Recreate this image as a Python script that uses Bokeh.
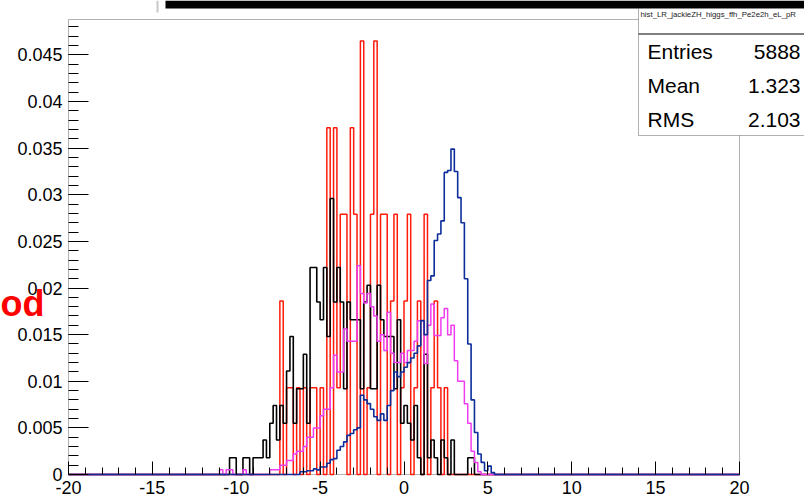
import numpy as np
from bokeh.plotting import figure
from bokeh.models import FixedTicker, BoxAnnotation, Label, Range1d, LinearAxis
from bokeh.embed import file_html
from bokeh.resources import INLINE

# ---- histogram binning: 200 bins of width 0.2 on [-20, 20] ----
BIN_LO = -20.0
BIN_W = 0.2
NBINS = 200

# ---- bin contents, listed from the first bin shown for each sample ----
blue_start = -6.2
blue_vals = [0.0003, 0.0003, 0.0004, 0.0004, 0.0006, 0.0005, 0.0008, 0.0008, 0.0012, 0.0016,
             0.0017, 0.0026, 0.0030, 0.0035, 0.0042, 0.0044, 0.0048, 0.0050, 0.0085, 0.0080,
             0.0076, 0.0070, 0.0062, 0.0058, 0.0065, 0.0058, 0.0074, 0.0090, 0.0110, 0.0105,
             0.0110, 0.0115, 0.0120, 0.0125, 0.0130, 0.0138, 0.0165, 0.0150, 0.0208, 0.0213,
             0.0251, 0.0258, 0.0272, 0.0324, 0.0326, 0.0349, 0.0325, 0.0297, 0.0270, 0.0210,
             0.0140, 0.0080, 0.0045, 0.0022, 0.0013, 0.0004, 0.0009, 0.0002]

magenta_start = -11.2
magenta_vals = [0.0, 0.0005, 0.0, 0.0005, 0.0005, 0.0, 0.0, 0.0, 0.0005, 0.0,
                0.0, 0.0, 0.0, 0.0, 0.0, 0.0, 0.0005, 0.0005, 0.0005, 0.0010,
                0.0010, 0.0015, 0.0015, 0.0022, 0.0025, 0.0025, 0.0030, 0.0040, 0.0040, 0.0050,
                0.0050, 0.0063, 0.0070, 0.0070, 0.0093, 0.0128, 0.0110, 0.0110, 0.0156, 0.0143,
                0.0143, 0.0143, 0.0224, 0.0194, 0.0184, 0.0194, 0.0180, 0.0170, 0.0143, 0.0150,
                0.0133, 0.0174, 0.0130, 0.0120, 0.0120, 0.0130, 0.0120, 0.0133, 0.0133, 0.0143,
                0.0165, 0.0165, 0.0119, 0.0160, 0.0183, 0.0149, 0.0149, 0.0168, 0.0178, 0.0150,
                0.0160, 0.0122, 0.0100, 0.0100, 0.0076, 0.0055, 0.0025, 0.0013, 0.0003]

black_start = -11.2
black_vals = [0.0, 0.0, 0.0, 0.0, 0.0018, 0.0018, 0.0, 0.0, 0.0018, 0.0018,
              0.0, 0.0018, 0.0018, 0.0018, 0.0037, 0.0018, 0.0055, 0.0074, 0.0037, 0.0074,
              0.0055, 0.0111, 0.0148, 0.0055, 0.0092, 0.0092, 0.0129, 0.0055, 0.0222, 0.0222,
              0.0185, 0.0166, 0.0222, 0.0148, 0.0296, 0.0185, 0.0222, 0.0185, 0.0092, 0.0185,
              0.0166, 0.0166, 0.0166, 0.0092, 0.0185, 0.0203, 0.0092, 0.0092, 0.0203, 0.0166,
              0.0148, 0.0148, 0.0148, 0.0092, 0.0166, 0.0055, 0.0074, 0.0055, 0.0037, 0.0074,
              0.0018, 0.0, 0.0129, 0.0018, 0.0037, 0.0018, 0.0, 0.0037, 0.0018, 0.0,
              0.0037, 0.0, 0.0, 0.0, 0.0, 0.0018, 0.0018]

red_start = -7.4
red_vals = [0.0186, 0.0, 0.0093, 0.0093, 0.0, 0.0093, 0.0, 0.0093, 0.0, 0.0093,
            0.0093, 0.0, 0.0093, 0.0, 0.0372, 0.0, 0.0372, 0.0093, 0.0279, 0.0279,
            0.0, 0.0372, 0.0279, 0.0, 0.0465, 0.0, 0.0093, 0.0279, 0.0465, 0.0,
            0.0279, 0.0279, 0.0, 0.0186, 0.0279, 0.0, 0.0093, 0.0186, 0.0279, 0.0,
            0.0093, 0.0186, 0.0, 0.0279, 0.0, 0.0093, 0.0186, 0.0093, 0.0, 0.0093]

# ---- axis ticks ----
x_ticks = [-20, -15, -10, -5, 0, 5, 10, 15, 20]
x_tick_labels = ["-20", "-15", "-10", "-5", "0", "5", "10", "15", "20"]
y_ticks = [0.0, 0.005, 0.01, 0.015, 0.02, 0.025, 0.03, 0.035, 0.04, 0.045]
y_tick_labels = ["0", "0.005", "0.01", "0.015", "0.02", "0.025", "0.03", "0.035", "0.04", "0.045"]
x_min, x_max = -20.0, 20.0
y_max = 0.0488

# ---- stats box ----
stats_title = "hist_LR_jackieZH_higgs_ffh_Pe2e2h_eL_pR"
stats_names = ["Entries", "Mean", "RMS"]
stats_values = ["5888", "1.323", "2.103"]

FONT = "Liberation Sans"
W, H = 804, 496
# pad margins around the histogram frame (pixels)
M_LEFT, M_RIGHT, M_TOP, M_BOTTOM = 68, 65, 19, 22

edges = BIN_LO + BIN_W * np.arange(NBINS + 1)


def full_hist(start, vals):
    h = np.zeros(NBINS)
    i0 = int(round((start - BIN_LO) / BIN_W))
    h[i0:i0 + len(vals)] = vals
    return np.append(h, h[-1])


# the plotting area spans the whole canvas, so that the pad decorations
# around the frame can be drawn as well
sx = (W - M_LEFT - M_RIGHT) / (x_max - x_min)
sy = (H - M_TOP - M_BOTTOM) / y_max
x_range = Range1d(x_min - M_LEFT / sx, x_max + M_RIGHT / sx)
y_range = Range1d(-M_BOTTOM / sy, y_max + M_TOP / sy)

p = figure(width=W, height=H, output_backend="svg", toolbar_location=None,
           x_range=x_range, y_range=y_range,
           x_axis_location=None, y_axis_location=None, min_border=0)
p.background_fill_color = "white"
p.border_fill_color = "white"
p.outline_line_color = None
p.xgrid.visible = False
p.ygrid.visible = False

# frame box
p.add_layout(BoxAnnotation(left=x_min, right=x_max, bottom=0, top=y_max,
                           fill_alpha=0, line_color="black", line_width=1, level="underlay"))

# histograms drawn as ROOT-style outlines
p.step(edges, full_hist(red_start, red_vals), mode="after", line_color="#ff1a0a", line_width=1.5)
p.step(edges, full_hist(black_start, black_vals), mode="after", line_color="black", line_width=1.6)
p.step(edges, full_hist(magenta_start, magenta_vals), mode="after", line_color="#f03cf0", line_width=1.5)
p.step(edges, full_hist(blue_start, blue_vals), mode="after", line_color="#0d2e9a", line_width=1.6)

# axes pinned to the frame edges
xaxis = LinearAxis(fixed_location=0.0, bounds=(x_min, x_max),
                   ticker=FixedTicker(ticks=x_ticks, minor_ticks=list(range(-20, 21))))
xaxis.major_label_overrides = dict(zip(x_ticks, x_tick_labels))
yaxis = LinearAxis(fixed_location=x_min, bounds=(0.0, y_max),
                   ticker=FixedTicker(ticks=y_ticks,
                                      minor_ticks=[round(0.001 * k, 3) for k in range(0, 49)]))
yaxis.major_label_overrides = dict(zip(y_ticks, y_tick_labels))
for ax in (xaxis, yaxis):
    ax.axis_line_color = None
    ax.major_tick_line_color = "black"
    ax.minor_tick_line_color = "black"
    ax.major_tick_out = 0
    ax.minor_tick_out = 0
    ax.major_label_text_font = FONT
    ax.major_label_text_font_size = "18px"
    ax.major_label_text_color = "black"
xaxis.major_tick_in = 13
xaxis.minor_tick_in = 7
xaxis.major_label_standoff = 6
yaxis.major_tick_in = 20
yaxis.minor_tick_in = 10
yaxis.major_label_standoff = 6
p.add_layout(xaxis, "below")
p.add_layout(yaxis, "left")


def canvas_box(left, right, top, bottom, **kw):
    return BoxAnnotation(left=left, right=right, top=top, bottom=bottom,
                         left_units="canvas", right_units="canvas",
                         top_units="canvas", bottom_units="canvas", **kw)


# top bar and pad edge
p.add_layout(canvas_box(165, W + 2, 0, 8, fill_color="black", fill_alpha=1, line_alpha=0))
p.add_layout(canvas_box(156, 158, 0, 12, fill_color="#c8c8c8", fill_alpha=1, line_alpha=0))

# statistics box
p.add_layout(canvas_box(638, W + 2, 8, 135, fill_color="white", fill_alpha=1,
                        line_color="black", line_width=1))
p.add_layout(canvas_box(638, W + 2, 33, 34, fill_color="black", fill_alpha=1, line_alpha=0))
p.add_layout(Label(x=640, y=14, x_units="canvas", y_units="canvas", text=stats_title,
                   text_font=FONT, text_font_size="7.8px", text_color="#222222",
                   text_baseline="middle", text_align="left"))
for i, (name, val) in enumerate(zip(stats_names, stats_values)):
    yy = 51 + 34 * i
    p.add_layout(Label(x=647, y=yy, x_units="canvas", y_units="canvas", text=name,
                       text_font=FONT, text_font_size="21px", text_color="black",
                       text_baseline="middle", text_align="left"))
    p.add_layout(Label(x=800, y=yy, x_units="canvas", y_units="canvas", text=val,
                       text_font=FONT, text_font_size="21px", text_color="black",
                       text_baseline="middle", text_align="right"))

# y-axis title fragment
p.add_layout(Label(x=44, y=303, x_units="canvas", y_units="canvas", text="od",
                   text_font=FONT, text_font_size="36px", text_font_style="bold",
                   text_color="#ff0000", text_baseline="alphabetic", text_align="right"))

open("out.html", "w").write(file_html(p, INLINE))
